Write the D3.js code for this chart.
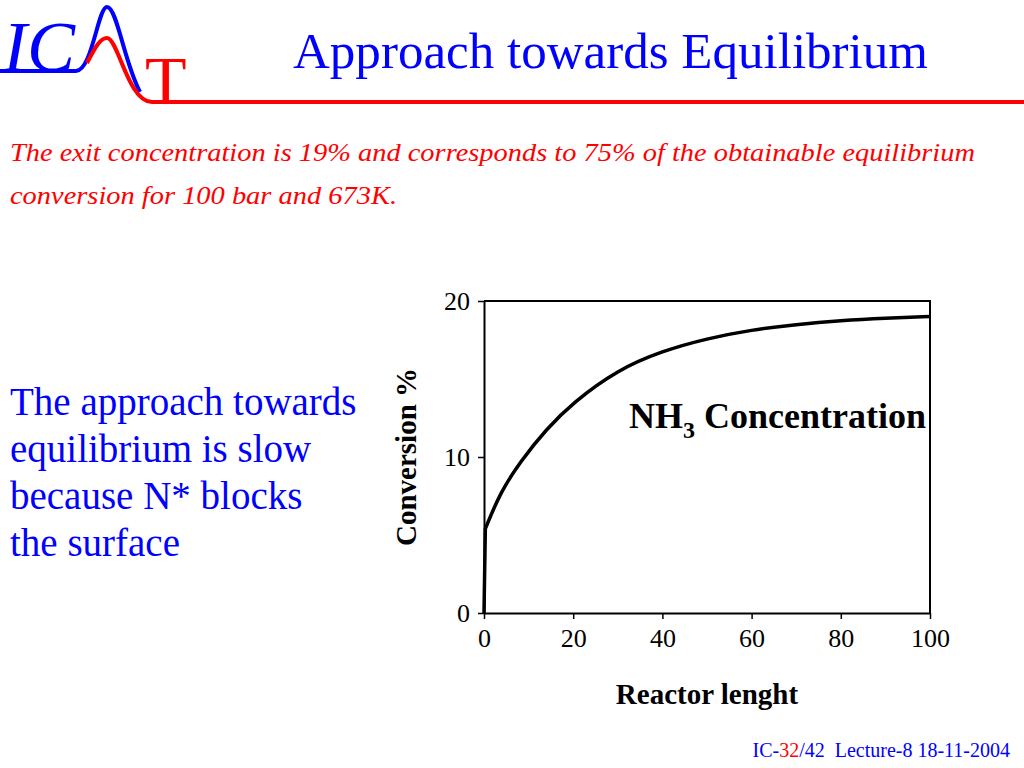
<!DOCTYPE html>
<html>
<head>
<meta charset="utf-8">
<script src="https://cdn.jsdelivr.net/npm/d3@7"></script>
<style>
  body { margin: 0; background: #fff; }
  svg { display: block; }
</style>
</head>
<body>
<div id="container"></div>
<script>
// reactor length (x) and NH3 conversion % (y)
var lengths    = [0, 0.3, 3.6, 8.1, 14, 20, 30, 40, 50, 60, 70, 80, 90, 100];
var conversion = [0, 5.4, 7.7, 9.7, 11.8, 13.5, 15.6, 16.8, 17.6, 18.15, 18.5, 18.75, 18.9, 19.0];
var xTicks = [0, 20, 40, 60, 80, 100];
var yTicks = [0, 10, 20];

var leftLines = ['The approach towards', 'equilibrium is slow', 'because N* blocks', 'the surface'];

var W = 1024, H = 768;
var blue = '#0000ff', red = '#ff0000';
var serif = '"Liberation Serif", "Times New Roman", Times, serif';

var svg = d3.select('#container').append('svg')
	.attr('width', W)
	.attr('height', H)
	.style('font-family', serif);

// ---- logo ----
var logo = svg.append('g');
logo.append('text')
	.attr('x', 3).attr('y', 71)
	.style('font-family', serif)
	.style('font-size', '72px').style('font-style', 'italic')
	.attr('fill', blue)
	.text('IC');
logo.append('path')
	.attr('d', 'M0,71 L76,71 C92,71 98,7 107,7 C117,7 124,62 140,92')
	.attr('fill', 'none').attr('stroke', blue).attr('stroke-width', 4);
logo.append('path')
	.attr('d', 'M87,63 C95,48 100,38 107,38 C118,38 128,102 152,102 L1024,102')
	.attr('fill', 'none').attr('stroke', red).attr('stroke-width', 4);
logo.append('text')
	.attr('x', 145).attr('y', 103)
	.style('font-family', serif)
	.style('font-size', '68px')
	.attr('fill', red)
	.text('T');

// ---- title ----
svg.append('text')
	.attr('x', 293).attr('y', 68)
	.attr('textLength', 635).attr('lengthAdjust', 'spacingAndGlyphs')
	.style('font-family', serif)
	.style('font-size', '50px')
	.attr('fill', blue)
	.text('Approach towards Equilibrium');

// ---- subtitle ----
svg.append('text')
	.attr('x', 10).attr('y', 161)
	.attr('textLength', 965).attr('lengthAdjust', 'spacingAndGlyphs')
	.style('font-family', serif)
	.style('font-size', '26px').style('font-style', 'italic')
	.attr('fill', red)
	.text('The exit concentration is 19% and corresponds to 75% of the obtainable equilibrium');
svg.append('text')
	.attr('x', 10).attr('y', 204)
	.attr('textLength', 387).attr('lengthAdjust', 'spacingAndGlyphs')
	.style('font-family', serif)
	.style('font-size', '26px').style('font-style', 'italic')
	.attr('fill', red)
	.text('conversion for 100 bar and 673K.');

// ---- left text ----
svg.append('g').selectAll('text')
	.data(leftLines)
	.enter().append('text')
	.attr('x', 10)
	.attr('y', function(d, i){ return 415 + i * 47; })
	.style('font-family', serif)
	.style('font-size', '39px')
	.attr('fill', blue)
	.text(function(d){ return d; });

// ---- chart ----
var plot = { left: 484, right: 930, top: 301, bottom: 613 };

var x = d3.scaleLinear().domain([0, 100]).range([plot.left, plot.right]);
var y = d3.scaleLinear().domain([0, 20]).range([plot.bottom, plot.top]);

var gx = svg.append('g')
	.attr('transform', 'translate(0,' + plot.bottom + ')')
	.call(d3.axisBottom(x).tickValues(xTicks).tickSize(6).tickPadding(10).tickSizeOuter(0));
var gy = svg.append('g')
	.attr('transform', 'translate(' + plot.left + ',0)')
	.call(d3.axisLeft(y).tickValues(yTicks).tickSize(6).tickPadding(8).tickSizeOuter(0));

[gx, gy].forEach(function(g){
	g.attr('font-family', null).attr('font-size', null);
	g.select('.domain').attr('stroke', '#000').attr('stroke-width', 2);
	g.selectAll('.tick line').attr('stroke', '#000').attr('stroke-width', 1.5);
	g.selectAll('.tick text')
		.style('font-family', serif)
		.style('font-size', '26px')
		.attr('fill', '#000');
});

// top + right border
svg.append('path')
	.attr('d', 'M' + x(0) + ',' + y(20) + 'H' + x(100) + 'V' + y(0))
	.attr('fill', 'none').attr('stroke', '#000').attr('stroke-width', 2);

var pts = lengths.map(function(d, i){ return [d, conversion[i]]; });

// the initial jump is a straight rise, the rest a smooth curve
var jump = d3.line()
	.x(function(d){ return x(d[0]); })
	.y(function(d){ return y(d[1]); });
var smooth = d3.line()
	.x(function(d){ return x(d[0]); })
	.y(function(d){ return y(d[1]); })
	.curve(d3.curveBasis);

svg.append('path')
	.attr('d', jump(pts.slice(0, 2)) + smooth(pts.slice(1)).replace(/^M[^A-Za-z]*/, ''))
	.attr('fill', 'none')
	.attr('stroke', '#000')
	.attr('stroke-width', 3.5)
	.attr('stroke-linejoin', 'round');

// label inside plot
var lab = svg.append('text')
	.attr('x', 629).attr('y', 428)
	.style('font-family', serif)
	.style('font-size', '36px').style('font-weight', 'bold')
	.attr('fill', '#000');
lab.append('tspan').text('NH');
lab.append('tspan').attr('dy', 10).style('font-size', '24px').text('3');
lab.append('tspan').attr('dy', -10).text(' Concentration');

// axis titles
svg.append('text')
	.attr('x', 707).attr('y', 704)
	.attr('text-anchor', 'middle')
	.style('font-family', serif)
	.style('font-size', '29px').style('font-weight', 'bold')
	.text('Reactor lenght');

svg.append('text')
	.attr('transform', 'translate(416,457)rotate(-90)')
	.attr('text-anchor', 'middle')
	.style('font-family', serif)
	.style('font-size', '29px').style('font-weight', 'bold')
	.text('Conversion  %');

// ---- footer ----
var foot = svg.append('text')
	.attr('x', 1010).attr('y', 757)
	.attr('text-anchor', 'end')
	.attr('xml:space', 'preserve')
	.style('white-space', 'pre')
	.style('font-family', serif)
	.style('font-size', '20px')
	.attr('fill', blue);
foot.append('tspan').text('IC-');
foot.append('tspan').attr('fill', red).text('32');
foot.append('tspan').text('/42  Lecture-8 18-11-2004');
</script>
</body>
</html>
